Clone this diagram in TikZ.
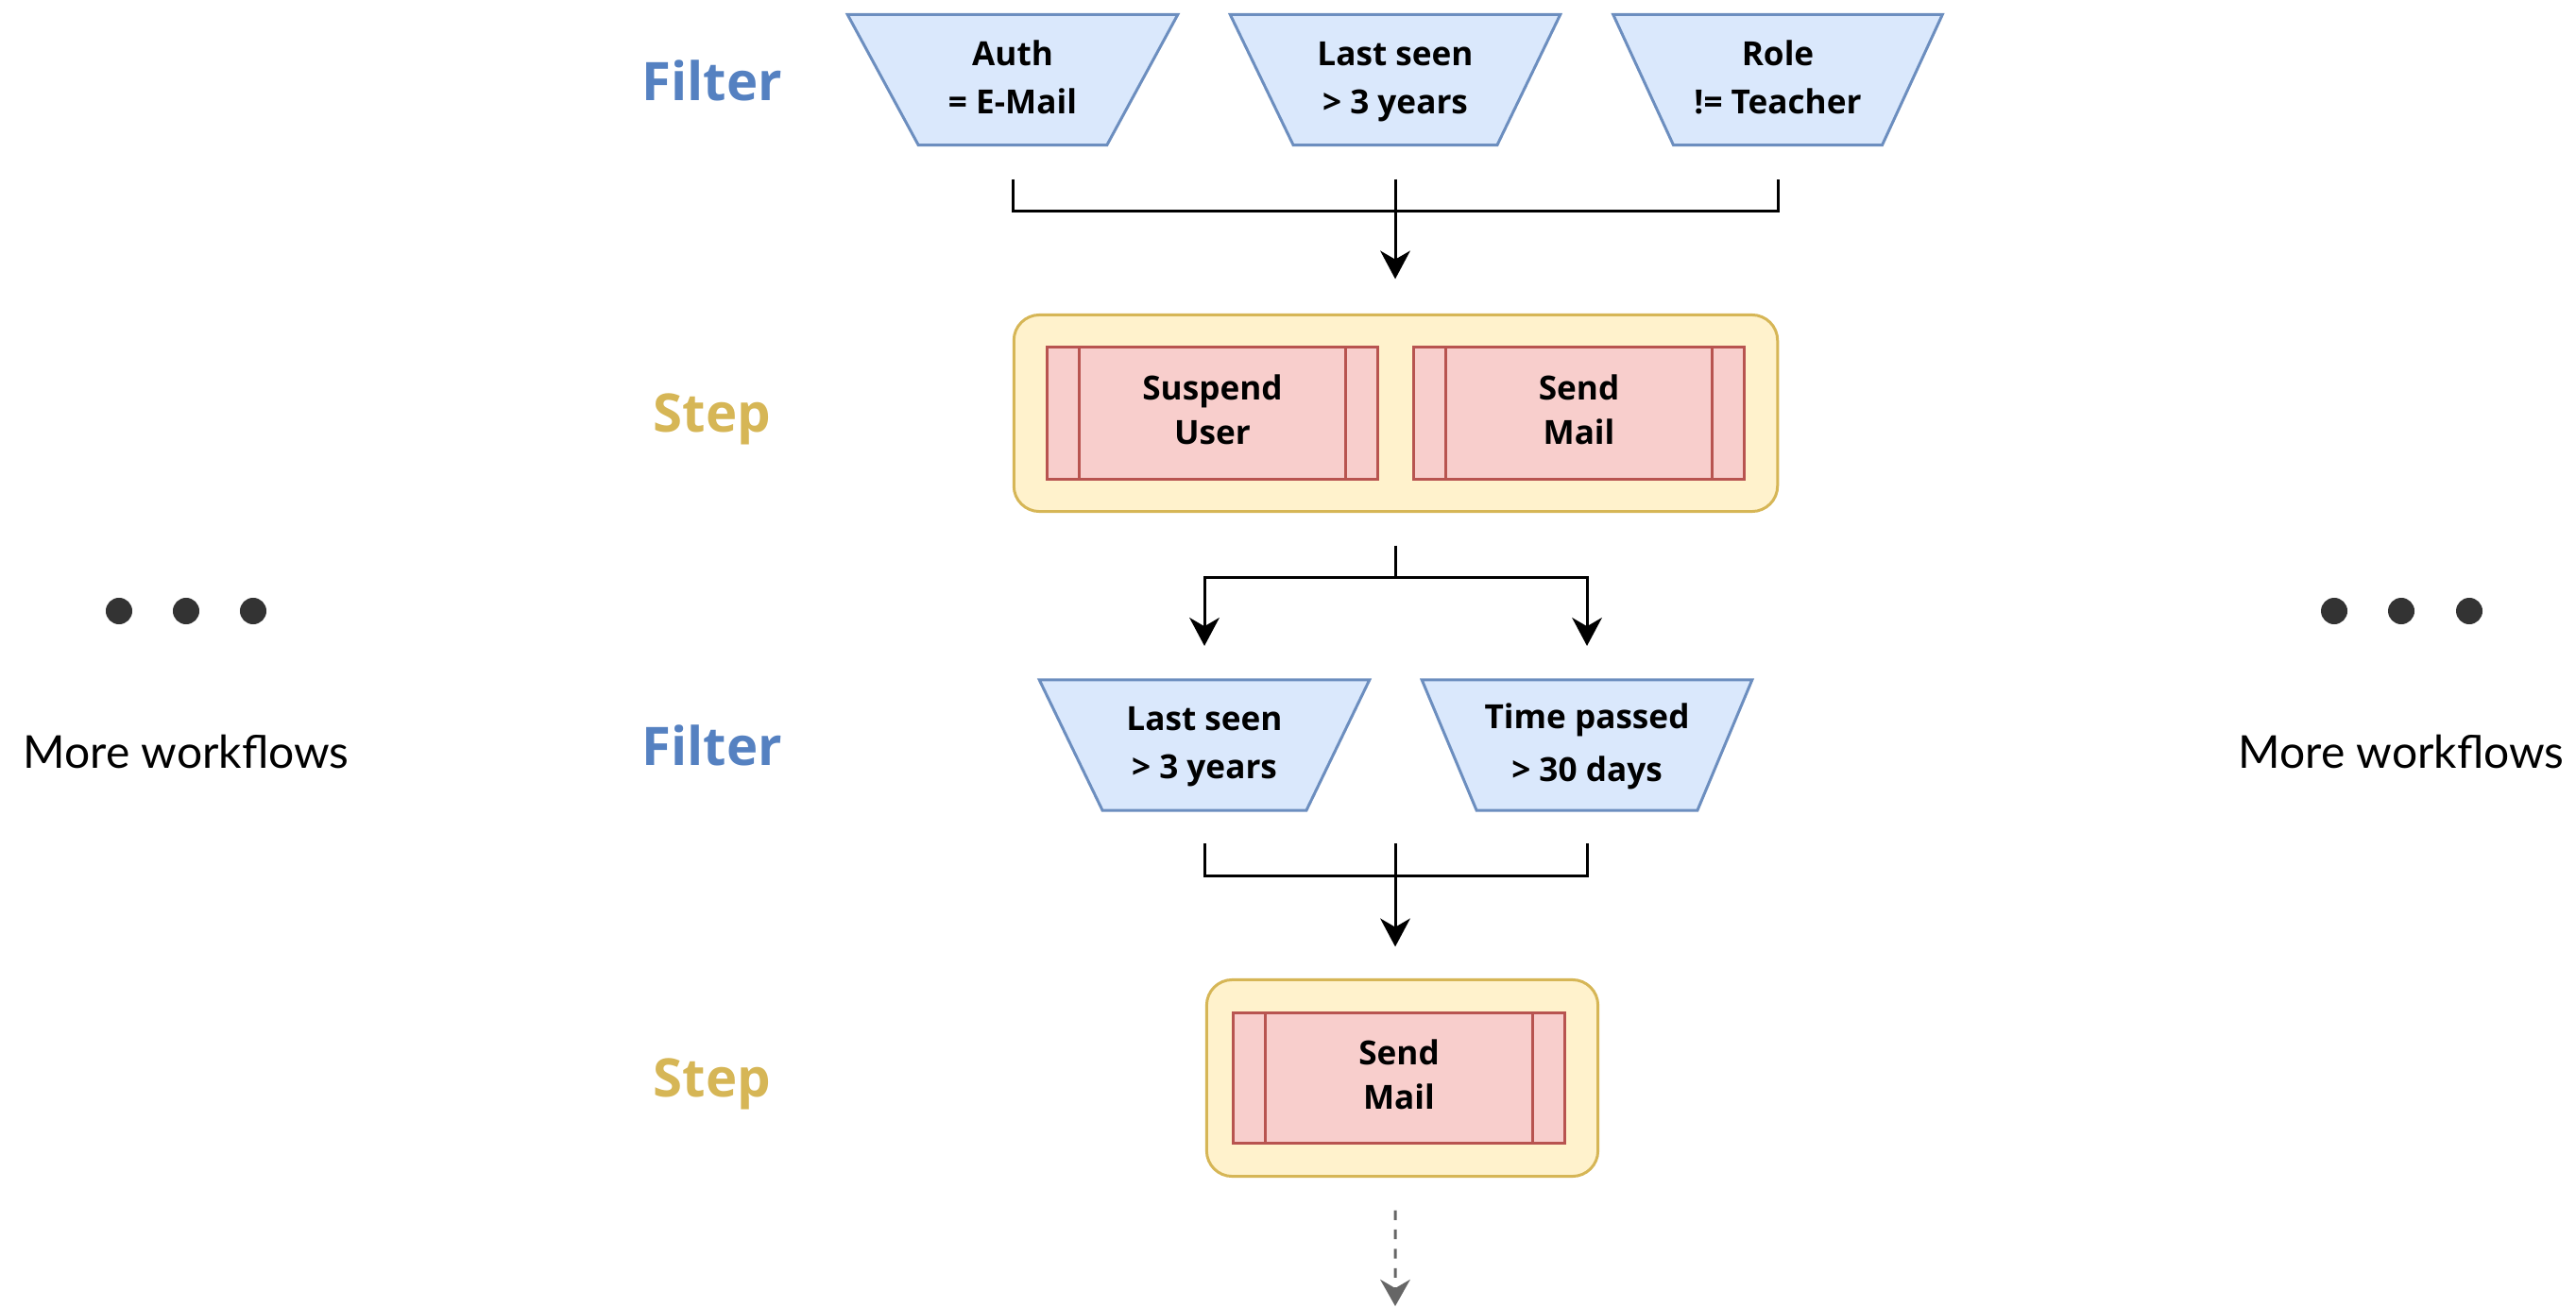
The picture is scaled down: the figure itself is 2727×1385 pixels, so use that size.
\documentclass[tikz,border=0pt]{standalone}
\usepackage{fontspec}
\setmainfont{Open Sans}
\newfontfamily\latofont{Lato}
\usetikzlibrary{shapes.geometric,arrows.meta,calc}
\definecolor{filtfill}{HTML}{DAE8FC}
\definecolor{filtstroke}{HTML}{6C8EBF}
\definecolor{filtlabel}{HTML}{5581C1}
\definecolor{stepfill}{HTML}{FFF2CC}
\definecolor{stepstroke}{HTML}{D6B656}
\definecolor{procfill}{HTML}{F8CECC}
\definecolor{procstroke}{HTML}{B85450}
\definecolor{dotc}{HTML}{333333}
\definecolor{dashc}{HTML}{666666}
\tikzset{
  filt/.style={trapezium, trapezium angle=63.4, shape border rotate=180,
    trapezium stretches=true, minimum width=3.51cm, minimum height=1.38cm,
    inner sep=0pt, outer sep=0pt, draw=filtstroke, fill=filtfill, line width=0.85pt,
    align=center, font=\fontsize{10}{14.5}\selectfont\bfseries},
  stepbox/.style={rectangle, draw=stepstroke, fill=stepfill, rounded corners=0.27cm,
    line width=0.85pt, minimum height=2.08cm, inner sep=0pt, outer sep=0pt},
  proc/.style={rectangle, draw=procstroke, fill=procfill, line width=0.85pt,
    minimum width=3.5cm, minimum height=1.39cm, inner sep=0pt, outer sep=0pt,
    align=center, font=\fontsize{10}{13.4}\selectfont\bfseries},
  procline/.style={draw=procstroke, line width=0.85pt},
  flabel/.style={font=\fontsize{16}{20}\selectfont\bfseries, text=filtlabel},
  slabel/.style={font=\fontsize{16}{20}\selectfont\bfseries, text=stepstroke},
  dot/.style={circle, fill=dotc, minimum size=0.28cm, inner sep=0pt},
  mw/.style={font=\latofont\fontsize{13.65}{16}\selectfont, anchor=base},
  conn/.style={line width=0.85pt, black},
  arr/.style={conn, -{Stealth[length=8.5pt,width=9pt,inset=2.6pt]}},
  dasharr/.style={line width=0.85pt, dashc, dash pattern=on 2.9pt off 2.9pt,
    -{Stealth[length=8pt,width=9pt,inset=2.6pt]}},
}
\begin{document}
\begin{tikzpicture}[x=0.01cm,y=-0.01cm]
\useasboundingbox (0,0) rectangle (2727,1385);

% side labels
\node[flabel] (lf1) at (754,85) {Filter};
\node[slabel] (ls1) at (754,444) {Step};
\node[flabel] (lf2) at (754,789) {Filter};
\node[slabel] (ls2) at (754,1148) {Step};

% row 1 filters
\node[filt] (t1) at (1072,84.5) {\strut Auth\\= E-Mail\strut};
\node[filt] (t2) at (1477,84.5) {\strut Last seen\\> 3 years\strut};
\node[filt] (t3) at (1882,84.5) {\strut Role\\!= Teacher\strut};

% step 1
\node[stepbox, minimum width=8.08cm] (s1) at (1477.5,437.5) {};
\node[proc] (p1) at (1283.5,437.5) {\strut Suspend\\User\strut};
\node[proc] (p2) at (1671.5,437.5) {\strut Send\\Mail\strut};

% row 2 filters
\node[filt] (f1) at (1275,789) {\strut Last seen\\> 3 years\strut};
\node[filt] (f2) at (1680,789) {\strut Time passed\\[1.5pt]> 30 days\strut};

% step 2
\node[stepbox, minimum width=4.14cm] (s2) at (1484.5,1141.5) {};
\node[proc, minimum width=3.51cm, minimum height=1.38cm] (p3) at (1481,1141.5) {\strut Send\\Mail\strut};

% side strips of process boxes
\foreach \n in {p1,p2,p3}{
  \draw[procline] ([xshift=0.345cm]\n.north west) -- ([xshift=0.345cm]\n.south west);
  \draw[procline] ([xshift=-0.345cm]\n.north east) -- ([xshift=-0.345cm]\n.south east);
}

% bracket 1
\coordinate (a1) at ($(t1.south)+(0,36)$);
\coordinate (a2) at ($(t2.south)+(0,36)$);
\coordinate (a3) at ($(t3.south)+(0,36)$);
\coordinate (j1) at ($(t2.south)+(0,70)$);
\coordinate (e1) at ($(s1.north)+(0,-38)$);
\draw[conn] (a1) |- (j1) -| (a3);
\draw[arr] (a2) -- (a2 |- e1);

% branch
\coordinate (b0) at ($(t2.south |- s1.south)+(0,36)$);
\coordinate (bj) at ($(t2.south |- s1.south)+(0,70)$);
\coordinate (bl) at ($(f1.north)+(0,-36)$);
\coordinate (br) at ($(f2.north)+(0,-36)$);
\draw[conn] (b0) -- (bj);
\draw[arr] (bj) -| (bl);
\draw[arr] (bj) -| (br);

% bracket 2
\coordinate (c1) at ($(f1.south)+(0,35)$);
\coordinate (c2) at ($(f2.south)+(0,35)$);
\coordinate (cj) at ($(t2.south |- f1.south)+(0,69)$);
\coordinate (c0) at ($(t2.south |- f1.south)+(0,35)$);
\coordinate (e2) at ($(s2.north)+(0,-35)$);
\draw[conn] (c1) |- (cj) -| (c2);
\draw[arr] (c0) -- (c0 |- e2);

% dashed continuation
\coordinate (d0) at ($(t2.south |- s2.south)+(0,36)$);
\coordinate (dend) at (1477,1383);
\draw[dasharr] (d0) -- (dend);

% more workflows
\node[dot] (dl1) at (126,647) {};
\node[dot] (dl2) at (197,647) {};
\node[dot] (dl3) at (268,647) {};
\node[mw] (mwl) at (197,813) {More workflows};
\node[dot] (dr1) at (2471,647) {};
\node[dot] (dr2) at (2542,647) {};
\node[dot] (dr3) at (2614,647) {};
\node[mw] (mwr) at (2542,813) {More workflows};
\end{tikzpicture}
\end{document}
